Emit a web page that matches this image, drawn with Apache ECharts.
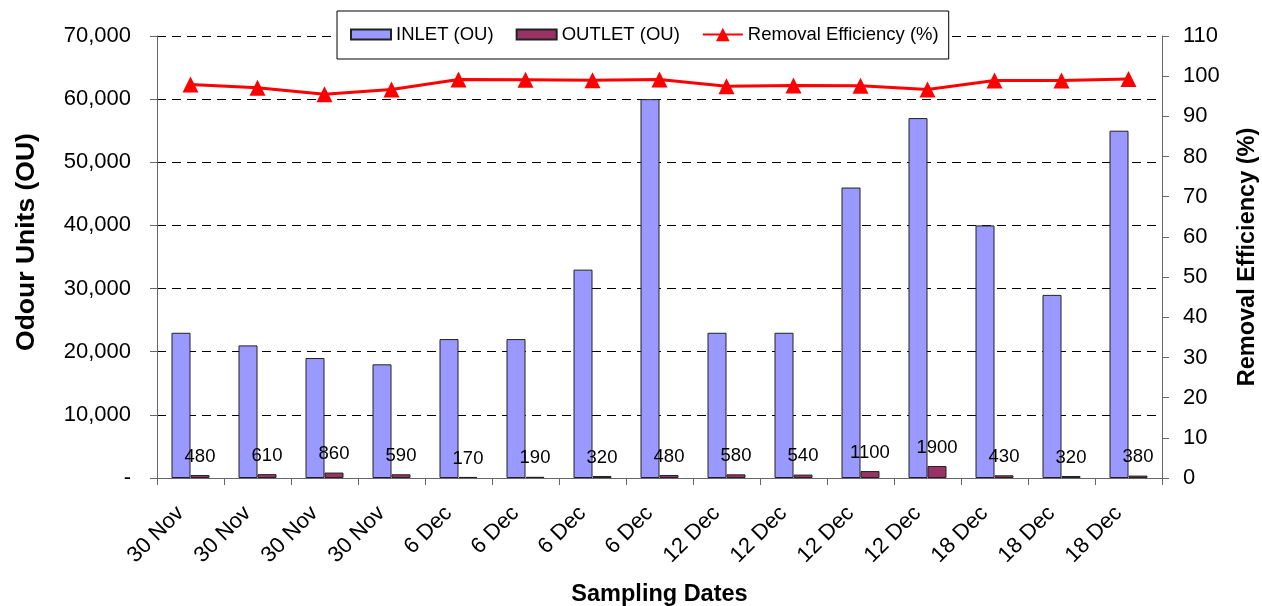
<!DOCTYPE html>
<html>
<head>
<meta charset="utf-8">
<script src="https://cdn.jsdelivr.net/npm/echarts@6/dist/echarts.min.js"></script>
<style>
html,body{margin:0;padding:0;background:#fff;}
#chart{width:1262px;height:606px;}
</style>
</head>
<body>
<div id="chart"></div>
<script>
// ---- data ----
var categories = ['30 Nov','30 Nov','30 Nov','30 Nov','6 Dec','6 Dec','6 Dec','6 Dec','12 Dec','12 Dec','12 Dec','12 Dec','18 Dec','18 Dec','18 Dec'];
var inletOU = [23000, 21000, 19000, 18000, 22000, 22000, 33000, 60000, 23000, 23000, 46000, 57000, 40000, 29000, 55000];
var outletOU = [480, 610, 860, 590, 170, 190, 320, 480, 580, 540, 1100, 1900, 430, 320, 380];
var removalEff = [97.9, 97.1, 95.5, 96.7, 99.2, 99.1, 99.0, 99.2, 97.5, 97.7, 97.6, 96.7, 98.9, 98.9, 99.3];
var seriesNames = ['INLET (OU)', 'OUTLET (OU)', 'Removal Efficiency (%)'];

var FONT = "'Liberation Sans', Arial, sans-serif";
var barIcon = 'path://M0,0L40,0L40,10L0,10Z';
var chart = echarts.init(document.getElementById('chart'), null, {renderer: 'canvas'});
var option = {
  animation: false,
  backgroundColor: '#ffffff',
  textStyle: {fontFamily: FONT, color: '#000'},
  legend: {
    left: 337, top: 11,
    padding: [14, 10, 15, 13],
    itemGap: 22,
    itemWidth: 40, itemHeight: 17,
    symbolKeepAspect: true,
    borderColor: '#000', borderWidth: 1,
    backgroundColor: '#fff',
    textStyle: {fontFamily: FONT, fontSize: 18.5, color: '#000'},
    data: [
      {name: seriesNames[0], icon: barIcon},
      {name: seriesNames[1], icon: barIcon},
      {name: seriesNames[2]}
    ]
  },
  grid: {left: 157, right: 100, top: 36, bottom: 128, containLabel: false, outerBoundsMode: 'none'},
  xAxis: {
    type: 'category',
    data: categories,
    name: 'Sampling Dates',
    nameLocation: 'middle',
    nameGap: 105,
    nameTextStyle: {fontFamily: FONT, fontSize: 23.5, fontWeight: 'bold', color: '#000'},
    axisLine: {lineStyle: {color: '#666', width: 1}},
    axisTick: {show: true, length: 7, lineStyle: {color: '#666'}},
    axisLabel: {interval: 0, rotate: 45, fontSize: 22, color: '#000', fontFamily: FONT, margin: 22,
      padding: [0, 14, 0, 0]}
  },
  yAxis: [
    {
      type: 'value', min: 0, max: 70000, interval: 10000,
      name: 'Odour Units (OU)', nameLocation: 'middle', nameGap: 117, nameRotate: 90,
      nameTextStyle: {fontFamily: FONT, fontSize: 26.5, fontWeight: 'bold', color: '#000', padding: [0, 0, 0, 30]},
      axisLine: {show: true, lineStyle: {color: '#666', width: 1}},
      axisTick: {show: true, length: 7, lineStyle: {color: '#666'}},
      axisLabel: {fontSize: 22, color: '#000', fontFamily: FONT, margin: 26,
        formatter: function (v) { return v === 0 ? '-' : v.toLocaleString('en-US'); }},
      splitLine: {show: true, lineStyle: {color: '#000', type: [9, 6], width: 1}}
    },
    {
      type: 'value', min: 0, max: 110, interval: 10, position: 'right',
      name: 'Removal Efficiency (%)', nameLocation: 'middle', nameGap: 74, nameRotate: 90,
      nameTextStyle: {fontFamily: FONT, fontSize: 23.5, fontWeight: 'bold', color: '#000'},
      axisLine: {show: true, lineStyle: {color: '#666', width: 1}},
      axisTick: {show: true, length: 7, lineStyle: {color: '#666'}},
      axisLabel: {fontSize: 22, color: '#000', fontFamily: FONT, margin: 21},
      splitLine: {show: false}
    }
  ],
  series: [
    {
      name: seriesNames[0], type: 'bar', data: inletOU,
      barWidth: 19, barGap: '0%',
      itemStyle: {color: '#9999FF', borderColor: '#222', borderWidth: 1}
    },
    {
      name: seriesNames[1], type: 'bar', data: outletOU,
      barWidth: 19, barGap: '0%',
      itemStyle: {color: '#993366', borderColor: '#222', borderWidth: 1},
      label: {show: true, position: 'top', distance: 9, fontSize: 18.5, color: '#000', fontFamily: FONT}
    },
    {
      name: seriesNames[2], type: 'line', yAxisIndex: 1, data: removalEff,
      symbol: 'triangle', symbolSize: 16,
      lineStyle: {color: '#FF0000', width: 3},
      itemStyle: {color: '#FF0000'},
      z: 5
    }
  ]
};
chart.setOption(option);
</script>
</body>
</html>
